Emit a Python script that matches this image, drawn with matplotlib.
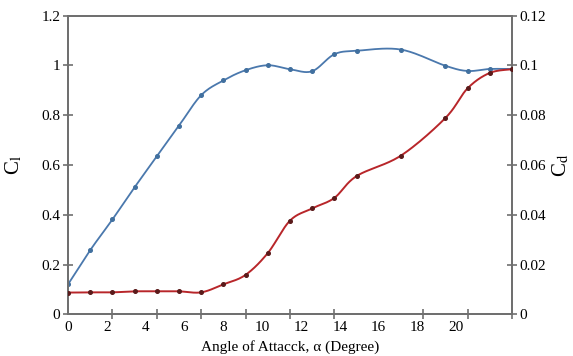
import numpy as np
import matplotlib.pyplot as plt

plt.rcParams['font.family'] = ['Liberation Serif', 'DejaVu Serif']
plt.rcParams['mathtext.fontset'] = 'stix'

# angle of attack (degrees) and measured coefficients
alpha = [0, 1.14, 2.29, 3.43, 4.57, 5.71, 6.86, 8.0, 9.14, 10.29, 11.43,
         12.57, 13.71, 14.86, 17.14, 19.43, 20.57, 21.71, 22.86]
cl = [0.121, 0.258, 0.382, 0.511, 0.635, 0.758, 0.881, 0.940, 0.981, 1.001,
      0.985, 0.977, 1.045, 1.059, 1.064, 0.999, 0.978, 0.986, 0.986]
cd = [0.0088, 0.0089, 0.0089, 0.0093, 0.0093, 0.0093, 0.0089, 0.0121, 0.0159,
      0.0247, 0.0377, 0.0426, 0.0468, 0.0556, 0.0638, 0.0789, 0.0908, 0.0970,
      0.0985]

x_max = 22.86
tick_marks = [0, 2.286, 4.571, 6.857, 9.143, 11.429, 13.714, 16.0, 18.286,
              20.571, 22.857]
x_labels = [0, 2, 4, 6, 8, 10, 12, 14, 16, 18, 20]


def smooth(x, y, sx, sy, n=20):
    # catmull-rom through the points, done in roughly screen-scaled units
    p = np.column_stack([np.asarray(x) * sx, np.asarray(y) * sy])
    p = np.vstack([p[0], p, p[-1]])
    out = []
    t = np.linspace(0, 1, n, endpoint=False)[:, None]
    for k in range(1, len(p) - 2):
        p0, p1, p2, p3 = p[k - 1], p[k], p[k + 1], p[k + 2]
        seg = 0.5 * ((2 * p1) + (-p0 + p2) * t
                     + (2 * p0 - 5 * p1 + 4 * p2 - p3) * t ** 2
                     + (-p0 + 3 * p1 - 3 * p2 + p3) * t ** 3)
        out.append(seg)
    out.append(p[-2][None, :])
    out = np.vstack(out)
    return out[:, 0] / sx, out[:, 1] / sy


fig = plt.figure(figsize=(5.73, 3.56), dpi=100)
ax = fig.add_axes([0.1187, 0.1166, 0.7748, 0.8393])
ax2 = ax.twinx()

blue = '#4a78ad'
red = '#b8262a'

xs, ys = smooth(alpha, cl, 444 / x_max, 299 / 1.2)
ax.plot(xs, ys, color=blue, lw=1.3, zorder=3)
ax.plot(alpha, cl, ls='none', marker='o', ms=2.6, color='#41709f', zorder=4)

xs, ys = smooth(alpha, cd, 444 / x_max, 299 / 0.12)
ax2.plot(xs, ys, color=red, lw=1.4, zorder=3)
ax2.plot(alpha, cd, ls='none', marker='o', ms=2.6, color='#5a1a1a', zorder=4)

ax.set_xlim(0, x_max)
ax.set_ylim(0, 1.2)
ax2.set_ylim(0, 0.12)

# labels sit at the true angles, tick marks on their own spacing
ax.set_xticks(x_labels)
ax.set_xticklabels([str(v) for v in x_labels])
ax.set_xticks(tick_marks, minor=True)
ax.tick_params(axis='x', which='major', length=0, pad=5, labelsize=11)
ax.tick_params(axis='x', which='minor', direction='inout', length=7,
               width=1.2, color='#707070')

ax.set_yticks([0, 0.2, 0.4, 0.6, 0.8, 1.0, 1.2])
ax.set_yticklabels(['0', '0.2', '0.4', '0.6', '0.8', '1', '1.2'])
ax.tick_params(axis='y', direction='inout', length=7, width=1.2,
               color='#707070', labelsize=11, pad=2)

ax2.set_yticks([0, 0.02, 0.04, 0.06, 0.08, 0.1, 0.12])
ax2.set_yticklabels(['0', '0.02', '0.04', '0.06', '0.08', '0.1', '0.12'])
ax2.tick_params(axis='y', direction='inout', length=7, width=1.2,
                color='#707070', labelsize=11, pad=2)

for a in (ax, ax2):
    for s in a.spines.values():
        s.set_color('#707070')
        s.set_linewidth(1.4)

ax.set_xlabel('Angle of Attacck, α (Degree)', fontsize=11, labelpad=4)
ax.set_ylabel(r'C$_\mathrm{l}$', fontsize=15, labelpad=12)
ax2.set_ylabel(r'C$_\mathrm{d}$', fontsize=15, labelpad=3, rotation=90)

fig.savefig('out.png', dpi=100)
